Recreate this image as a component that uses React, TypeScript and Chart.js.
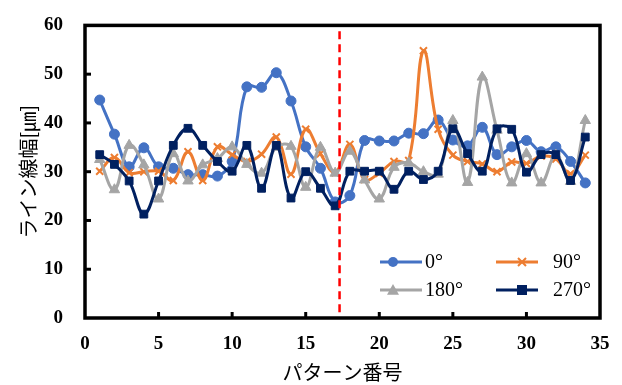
import React, { useEffect, useRef } from "react";
import { Chart, registerables } from "chart.js";

Chart.register(...registerables);

const patterns = Array.from({ length: 34 }, (_, i) => i + 1);

const series0 = [44.7, 37.7, 31.0, 34.9, 31.0, 30.7, 29.4, 29.4, 29.1, 32.1, 47.4, 47.3, 50.3, 44.5, 35.1, 30.7, 23.8, 25.1, 36.4, 36.3, 36.3, 37.9, 37.8, 40.6, 36.5, 35.3, 39.1, 33.5, 35.1, 36.4, 34.1, 35.1, 32.1, 27.7];
const series90 = [30.1, 32.9, 29.8, 30.0, 30.1, 28.2, 34.1, 28.2, 35.1, 33.5, 32.1, 33.6, 37.1, 29.5, 38.7, 33.7, 29.8, 35.6, 28.4, 29.7, 32.1, 32.3, 54.8, 38.7, 33.4, 32.1, 31.6, 30.0, 32.0, 31.7, 33.2, 32.6, 29.6, 33.4];
const series180 = [32.5, 26.3, 35.4, 31.4, 24.4, 33.7, 28.1, 31.4, 32.7, 35.1, 31.5, 29.7, 35.0, 35.2, 26.8, 35.0, 29.7, 34.2, 28.3, 24.4, 30.9, 31.8, 30.0, 29.5, 40.5, 27.8, 49.4, 38.5, 27.7, 33.7, 27.7, 33.4, 28.0, 40.5];
const series270 = [33.5, 31.5, 28.1, 21.3, 28.1, 35.4, 38.9, 35.4, 32.1, 30.1, 35.4, 26.6, 35.4, 24.6, 30.0, 26.6, 23.0, 30.1, 30.1, 30.1, 26.4, 30.1, 28.4, 30.1, 38.8, 33.7, 30.1, 38.8, 38.7, 29.9, 33.5, 33.5, 28.2, 37.1];

const seriesNames = ["0°", "90°", "180°", "270°"];
const dividerX = 17.3;

const xTitle = "パターン番号";
const yTitle = "ライン線幅[㎛]";

const TICK_FONT = { family: "'Liberation Serif', serif", size: 19, weight: "bold" as const };

function toXY(vals: number[]) {
  return vals.map((v, i) => ({ x: patterns[i], y: v }));
}

const framePlugin = {
  id: "frame",
  afterDatasetsDraw(chart: any) {
    const { ctx, chartArea: a, scales } = chart;
    const xs = scales.x;
    const ys = scales.y;
    ctx.save();
    // red dashed divider
    const dx = xs.getPixelForValue(dividerX);
    ctx.strokeStyle = "#FF0000";
    ctx.lineWidth = 2.5;
    ctx.setLineDash([8, 5]);
    ctx.beginPath();
    ctx.moveTo(dx, ys.getPixelForValue(58.8));
    ctx.lineTo(dx, a.bottom - 2);
    ctx.stroke();
    ctx.setLineDash([]);
    // frame
    ctx.strokeStyle = "#000";
    ctx.lineWidth = 3.5;
    ctx.strokeRect(a.left, a.top, a.right - a.left, a.bottom - a.top);
    // inward ticks
    ctx.lineWidth = 3;
    for (let v = 10; v < 60; v += 10) {
      const y = ys.getPixelForValue(v);
      ctx.beginPath();
      ctx.moveTo(a.left, y);
      ctx.lineTo(a.left + 6, y);
      ctx.stroke();
    }
    for (let v = 5; v < 35; v += 5) {
      const x = xs.getPixelForValue(v);
      ctx.beginPath();
      ctx.moveTo(x, a.bottom);
      ctx.lineTo(x, a.bottom - 6);
      ctx.stroke();
    }
    // legend
    const entries = [
      { ds: 0, x: 380, y: 262 },
      { ds: 1, x: 496, y: 262 },
      { ds: 2, x: 380, y: 290 },
      { ds: 3, x: 496, y: 290 },
    ];
    entries.forEach((e) => {
      const ds = chart.data.datasets[e.ds];
      ctx.strokeStyle = ds.borderColor;
      ctx.lineWidth = 3;
      ctx.beginPath();
      ctx.moveTo(e.x, e.y);
      ctx.lineTo(e.x + 42, e.y);
      ctx.stroke();
      const mx = e.x + (e.ds % 2 === 0 ? 13 : 26);
      ctx.fillStyle = ds.pointBackgroundColor;
      ctx.strokeStyle = ds.pointBorderColor;
      ctx.lineWidth = ds.pointBorderWidth;
      const r = ds.legendRadius;
      ctx.beginPath();
      if (ds.pointStyle === "circle") {
        ctx.arc(mx, e.y, r, 0, Math.PI * 2);
        ctx.fill();
      } else if (ds.pointStyle === "rect") {
        ctx.rect(mx - r, e.y - r, r * 2, r * 2);
        ctx.fill();
      } else if (ds.pointStyle === "triangle") {
        ctx.moveTo(mx, e.y - r);
        ctx.lineTo(mx + r, e.y + r * 0.8);
        ctx.lineTo(mx - r, e.y + r * 0.8);
        ctx.closePath();
        ctx.fill();
      } else {
        ctx.moveTo(mx - r, e.y - r);
        ctx.lineTo(mx + r, e.y + r);
        ctx.moveTo(mx + r, e.y - r);
        ctx.lineTo(mx - r, e.y + r);
        ctx.stroke();
      }
      ctx.fillStyle = "#000";
      ctx.font = "20px 'Liberation Serif', serif";
      ctx.textBaseline = "middle";
      ctx.textAlign = "left";
      ctx.fillText(seriesNames[e.ds], e.x + (e.ds % 2 === 0 ? 45 : 57), e.y + 1);
    });
    ctx.restore();
  },
};

export default function App() {
  const ref = useRef<HTMLCanvasElement | null>(null);
  useEffect(() => {
    if (!ref.current) return;
    const mk = (label: string, data: number[], color: string, style: string, radius: number, legendRadius: number, order: number, bw = 1) => ({
      label,
      data: toXY(data),
      borderColor: color,
      backgroundColor: color,
      pointBackgroundColor: color,
      pointBorderColor: color,
      pointBorderWidth: bw,
      borderWidth: 3,
      pointStyle: style,
      pointRadius: radius,
      pointHoverRadius: radius,
      tension: 0.4,
      order,
      legendRadius,
    });
    const chart = new Chart(ref.current, {
      type: "line",
      data: {
        datasets: [
          mk(seriesNames[0], series0, "#4472C4", "circle", 5, 5, 4),
          mk(seriesNames[1], series90, "#ED7D31", "crossRot", 5, 4, 3, 2),
          mk(seriesNames[2], series180, "#A5A5A5", "triangle", 6, 6, 2),
          mk(seriesNames[3], series270, "#002060", "rect", 5.5, 5, 1),
        ] as any,
      },
      options: {
        animation: false,
        responsive: false,
        maintainAspectRatio: false,
        layout: { padding: { top: 11, right: 22, left: 0, bottom: 0 } },
        plugins: { legend: { display: false }, tooltip: { enabled: false } },
        scales: {
          x: {
            type: "linear",
            min: 0,
            max: 35,
            ticks: { stepSize: 5, padding: 7, color: "#000", font: TICK_FONT },
            grid: { display: false },
            border: { display: false },
            title: {
              display: true,
              text: xTitle,
              color: "#000",
              font: { family: "'Noto Sans CJK JP', sans-serif", size: 20 },
              padding: { top: 0, bottom: 1 },
            },
            afterFit: (s: any) => {
              s.height = 67;
            },
          },
          y: {
            min: 0,
            max: 60,
            ticks: { stepSize: 10, padding: 14, color: "#000", font: TICK_FONT },
            grid: { display: false },
            border: { display: false },
            title: {
              display: true,
              text: yTitle,
              color: "#000",
              font: { family: "'Noto Sans CJK JP', sans-serif", size: 20 },
              padding: { top: 16, bottom: 0 },
            },
            afterFit: (s: any) => {
              s.width = 85;
            },
          },
        },
      },
      plugins: [framePlugin],
    });
    return () => chart.destroy();
  }, []);
  return (
    <div style={{ position: "fixed", left: 0, top: 0, width: 622, height: 385, background: "#fff" }}>
      <canvas ref={ref} width={622} height={385} style={{ width: 622, height: 385 }} />
    </div>
  );
}
